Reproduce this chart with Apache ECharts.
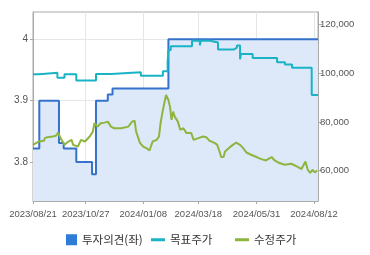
<!DOCTYPE html>
<html><head><meta charset="utf-8">
<script src="https://cdn.jsdelivr.net/npm/echarts@6/dist/echarts.min.js"></script>
<style>html,body{margin:0;padding:0;background:#fff}#c{width:370px;height:255px}</style>
</head><body><div id="c"></div>
<script>
const opinionDates = ['2023-08-21','2023-08-29','2023-09-23','2023-09-29','2023-10-15','2023-11-04','2023-11-09','2023-11-24','2023-11-30','2024-02-09','2024-08-17'];
const opinionValues = [3.822,3.9,3.831,3.822,3.8,3.78,3.9,3.91,3.92,4.0,4.0];

const targetDates = ['2023-08-21','2023-08-29','2023-09-21','2023-09-30','2023-10-15','2023-11-09','2023-11-28','2024-01-05','2024-02-02','2024-02-08','2024-02-09','2024-02-12','2024-03-10','2024-03-20','2024-03-21','2024-04-02','2024-04-12','2024-05-02','2024-05-06','2024-05-10','2024-05-11','2024-05-26','2024-06-26','2024-07-06','2024-07-15','2024-08-09','2024-08-17'];
const targetValues = [99500,100100,98100,99500,96900,99600,100300,98900,100700,104600,109400,111000,113200,111400,113200,112500,109600,110400,111300,105600,107800,106200,104400,103500,102200,91000,91000];

const priceDates = ['2023-08-21','2023-08-28','2023-08-30','2023-09-04','2023-09-05','2023-09-08','2023-09-15','2023-09-19','2023-09-22','2023-09-25','2023-09-30','2023-10-05','2023-10-09','2023-10-11','2023-10-17','2023-10-21','2023-10-26','2023-11-01','2023-11-05','2023-11-07','2023-11-11','2023-11-15','2023-11-20','2023-11-24','2023-11-28','2023-12-02','2023-12-11','2023-12-20','2023-12-25','2023-12-28','2023-12-30','2024-01-04','2024-01-08','2024-01-12','2024-01-16','2024-01-20','2024-01-25','2024-01-28','2024-01-30','2024-02-02','2024-02-06','2024-02-09','2024-02-11','2024-02-13','2024-02-15','2024-02-17','2024-02-21','2024-02-24','2024-02-28','2024-03-03','2024-03-09','2024-03-12','2024-03-18','2024-03-24','2024-03-28','2024-04-01','2024-04-08','2024-04-11','2024-04-14','2024-04-16','2024-04-19','2024-04-21','2024-04-27','2024-05-01','2024-05-05','2024-05-10','2024-05-14','2024-05-18','2024-05-24','2024-05-31','2024-06-06','2024-06-12','2024-06-19','2024-06-23','2024-06-29','2024-07-06','2024-07-14','2024-07-21','2024-07-27','2024-08-01','2024-08-04','2024-08-07','2024-08-10','2024-08-13','2024-08-16'];
const priceValues = [70600,71950,72650,72250,73350,73750,74000,74300,75600,73350,70600,71950,72650,70600,69900,72650,71950,74000,76000,79450,78050,79450,79700,80100,78050,77400,77400,78050,80100,80500,76000,71300,69900,69250,68300,71950,72650,74000,79450,84900,91000,88950,86250,80800,84200,82150,80100,76750,77400,75400,75400,72650,73350,74000,73750,72350,71300,70600,67750,65600,65600,67850,69650,70600,71550,70600,69250,67450,66550,65600,64750,64200,65600,64200,63150,62450,62850,61750,60700,63800,60400,59050,60400,59300,60100];

const xTickLabels = ['2023/08/21','2023/10/27','2024/01/08','2024/03/18','2024/05/31','2024/08/12'];
const leftTicks = [3.8, 3.9, 4.0];
const rightTicks = [60000, 80000, 100000, 120000];
const seriesNames = ['투자의견(좌)', '목표주가', '수정주가'];

function ts(s) {
  const p = s.split(/[-\/]/).map(Number);
  return new Date(p[0], p[1] - 1, p[2]).getTime();
}
function pad(n) { return (n < 10 ? '0' : '') + n; }
function fmtDate(v) {
  const d = new Date(v);
  return d.getFullYear() + '/' + pad(d.getMonth() + 1) + '/' + pad(d.getDate());
}
function pairs(dates, vals) { return dates.map((d, i) => [ts(d), vals[i]]); }

const xTicks = xTickLabels.map(ts);
const labelFont = 'Liberation Sans, Arial, sans-serif';
const gridColor = '#e3e6ea';
const axisColor = '#aaaaaa';
const legendText = {fontSize: 11.5, color: '#333', fontFamily: 'Noto Sans CJK KR'};

const chart = echarts.init(document.getElementById('c'), null, {renderer: 'canvas'});
chart.setOption({
  animation: false,
  backgroundColor: '#ffffff',
  grid: {left: 33, right: 52, top: 12, bottom: 54, show: true, borderColor: axisColor, borderWidth: 1, backgroundColor: 'transparent'},
  legend: [
    {data: [{name: seriesNames[0], icon: 'rect'}], left: 61, top: 229, itemWidth: 11, itemHeight: 11, itemGap: 4,
     textStyle: legendText, selectedMode: false},
    {data: [{name: seriesNames[1], icon: 'rect'}], left: 146, top: 229, itemWidth: 14, itemHeight: 3, itemGap: 4,
     textStyle: legendText, selectedMode: false},
    {data: [{name: seriesNames[2], icon: 'rect'}], left: 230, top: 229, itemWidth: 14, itemHeight: 3, itemGap: 4,
     textStyle: legendText, selectedMode: false}
  ],
  xAxis: {
    type: 'value',
    min: ts('2023-08-21'),
    max: ts('2024-08-17'),
    axisLine: {show: true, onZero: false, lineStyle: {color: axisColor}},
    axisTick: {show: true, length: 3, lineStyle: {color: axisColor}, customValues: xTicks},
    splitLine: {show: true, lineStyle: {color: gridColor, width: 1}},
    axisLabel: {customValues: xTicks, formatter: v => fmtDate(v), color: '#555', fontSize: 9.5, fontFamily: labelFont, margin: 8, hideOverlap: false, showMinLabel: true, showMaxLabel: true}
  },
  yAxis: [
    {
      type: 'value', position: 'left', min: 3.7365, max: 4.0445,
      axisLine: {show: true, onZero: false, lineStyle: {color: axisColor}},
      axisTick: {show: true, length: 3, lineStyle: {color: axisColor}, customValues: leftTicks},
      splitLine: {show: true, lineStyle: {color: gridColor, width: 1}},
      axisLabel: {customValues: leftTicks, formatter: v => (Math.abs(v - 4) < 1e-9 ? '4' : v.toFixed(1)), color: '#555', fontSize: 10, fontFamily: labelFont, margin: 5}
    },
    {
      type: 'value', position: 'right', min: 47600, max: 125000,
      axisLine: {show: true, onZero: false, lineStyle: {color: axisColor}},
      axisTick: {show: true, length: 4, lineStyle: {color: axisColor}, customValues: rightTicks},
      splitLine: {show: false},
      axisLabel: {customValues: rightTicks, formatter: v => v.toLocaleString('en-US'), color: '#555', fontSize: 9.5, fontFamily: labelFont, margin: 2}
    }
  ],
  series: [
    {
      name: seriesNames[0], type: 'line', yAxisIndex: 0, step: 'end', showSymbol: false, symbol: 'none',
      data: pairs(opinionDates, opinionValues),
      itemStyle: {color: '#2f7bd8'},
      lineStyle: {color: '#3572cc', width: 2},
      areaStyle: {color: '#dde8f8', opacity: 1, origin: 'start'},
      z: 1
    },
    {
      name: seriesNames[1], type: 'line', yAxisIndex: 1, step: 'end', showSymbol: false, symbol: 'none',
      data: pairs(targetDates, targetValues),
      itemStyle: {color: '#1ab3c6'},
      lineStyle: {color: '#1ab3c6', width: 2},
      z: 3
    },
    {
      name: seriesNames[2], type: 'line', yAxisIndex: 1, showSymbol: false, symbol: 'none',
      data: pairs(priceDates, priceValues),
      itemStyle: {color: '#8db53f'},
      lineStyle: {color: '#8db53f', width: 2},
      z: 2
    }
  ]
});
</script></body></html>
